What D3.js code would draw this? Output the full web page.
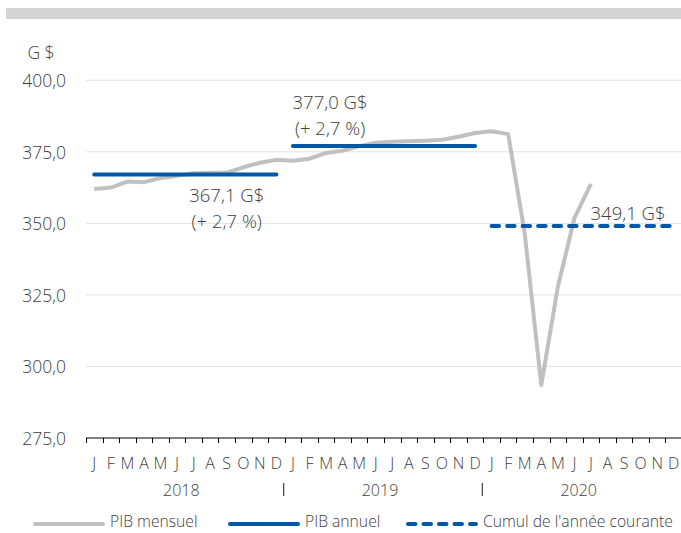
<!DOCTYPE html>
<html>
<head>
<meta charset="utf-8">
<script src="https://cdn.jsdelivr.net/npm/d3@7"></script>
<style>
  body { margin: 0; background: #fff; }
  text { font-family: "Open Sans", sans-serif; font-weight: 300; fill: #404040; }
</style>
</head>
<body>
<svg id="main" width="681" height="533"></svg>
<script>
// data
let monthLabels = ['J','F','M','A','M','J','J','A','S','O','N','D'];
let years = ['2018', '2019', '2020'];
let monthly = [
  362.0, 362.5, 364.6, 364.4, 365.8, 366.6, 367.5, 367.7, 367.7, 369.6, 371.2, 372.2,
  371.9, 372.6, 374.6, 375.4, 377.0, 378.2, 378.5, 378.7, 378.9, 379.2, 380.3, 381.6,
  382.2, 381.2, 346.5, 293.5, 327.8, 351.8, 363.8
];
let annual = [367.1, 377.0];
let annualLabels = [['367,1 G$', '(+ 2,7 %)'], ['377,0 G$', '(+ 2,7 %)']];
let cumul = 349.1;
let cumulLabel = '349,1 G$';
let yTicks = [275, 300, 325, 350, 375, 400];

const blue = '#0058a6', gray = '#c0c0c0';
let svg = d3.select('#main');

// top band
svg.append('rect').attr('x', 6).attr('y', 8).attr('width', 675).attr('height', 11).attr('fill', '#d4d4d4');

let monthIdx = d3.range(years.length * 12);
let x = d3.scaleBand().domain(monthIdx).range([86, 682]).padding(0);
let cx = i => x(i) + x.bandwidth() / 2;
let y = d3.scaleLinear().domain([275, 400]).range([438, 80.3]);

// grid
svg.append('g')
  .selectAll('line')
  .data(yTicks.filter(d => d > 275))
  .join('line')
  .attr('x1', 86).attr('x2', 681)
  .attr('y1', d => y(d)).attr('y2', d => y(d))
  .attr('stroke', '#e2e2e2').attr('stroke-width', 1);

// y labels
svg.append('g')
  .selectAll('text')
  .data(yTicks)
  .join('text')
  .attr('x', 66).attr('y', d => y(d))
  .attr('text-anchor', 'end').attr('dominant-baseline', 'central')
  .style('font-size', '17.5px')
  .text(d => d3.format('.1f')(d).replace('.', ','));
svg.append('text').attr('x', 41).attr('y', 52)
  .attr('text-anchor', 'middle').attr('dominant-baseline', 'central')
  .style('font-size', '17.5px').text('G $');

// x axis
let axis = svg.append('g').attr('transform', `translate(0,${y(275)})`);
axis.append('line').attr('x1', 86).attr('x2', 682).attr('stroke', '#000').attr('stroke-width', 1);
axis.selectAll('.tick')
  .data(d3.range(monthIdx.length + 1))
  .join('line')
  .attr('class', 'tick')
  .attr('x1', i => Math.round(86 + i * x.bandwidth()) + 0.5)
  .attr('x2', i => Math.round(86 + i * x.bandwidth()) + 0.5)
  .attr('y1', 0).attr('y2', 5)
  .attr('stroke', '#000');
axis.selectAll('.mlab')
  .data(monthIdx)
  .join('text')
  .attr('class', 'mlab')
  .attr('x', i => cx(i)).attr('y', 25)
  .attr('text-anchor', 'middle').attr('dominant-baseline', 'central')
  .style('font-size', '16px')
  .text(i => monthLabels[i % 12]);
axis.selectAll('.ylab')
  .data(years)
  .join('text')
  .attr('class', 'ylab')
  .attr('x', (d, i) => x(i * 12 + 6) - 4).attr('y', 52)
  .attr('text-anchor', 'middle').attr('dominant-baseline', 'central')
  .style('font-size', '16px')
  .text(d => d);
axis.selectAll('.sep')
  .data(years.slice(1))
  .join('line')
  .attr('class', 'sep')
  .attr('x1', (d, i) => x((i + 1) * 12) - 1).attr('x2', (d, i) => x((i + 1) * 12) - 1)
  .attr('y1', 45).attr('y2', 58)
  .attr('stroke', '#404040').attr('stroke-width', 1.2);

// monthly line
svg.append('path')
  .datum(monthly)
  .attr('fill', 'none').attr('stroke', gray).attr('stroke-width', 4)
  .attr('stroke-linejoin', 'round')
  .attr('d', d3.line().x((d, i) => cx(i)).y(d => y(d)));

// annual lines
svg.append('g')
  .selectAll('line')
  .data(annual)
  .join('line')
  .attr('x1', (d, i) => cx(i * 12)).attr('x2', (d, i) => cx(i * 12 + 11))
  .attr('y1', d => y(d)).attr('y2', d => y(d))
  .attr('stroke', blue).attr('stroke-width', 4).attr('stroke-linecap', 'round');

// current-year cumulative
svg.append('line')
  .attr('x1', cx(24)).attr('x2', cx(35))
  .attr('y1', y(cumul)).attr('y2', y(cumul))
  .attr('stroke', blue).attr('stroke-width', 4).attr('stroke-linecap', 'round')
  .attr('stroke-dasharray', '7.5,8');

// annotations
let ann = [
  {lines: annualLabels[0], xi: 8, dy: 20},
  {lines: annualLabels[1], xi: 14, dy: -45},
];
ann.forEach((a, k) => {
  a.lines.forEach((t, j) => {
    svg.append('text')
      .attr('x', cx(a.xi) + (k === 0 ? 0 : 4)).attr('y', y(annual[k]) + a.dy + j * 26)
      .attr('text-anchor', 'middle').attr('dominant-baseline', 'central')
      .style('font-size', '18.5px')
      .text(t);
  });
});
svg.append('text')
  .attr('x', cx(32) + 4).attr('y', y(cumul) - 13)
  .attr('text-anchor', 'middle').attr('dominant-baseline', 'central')
  .style('font-size', '18.5px')
  .text(cumulLabel);

// legend
let legend = [
  {label: 'PIB mensuel', color: gray, dash: null, x: 35},
  {label: 'PIB annuel', color: blue, dash: null, x: 230},
  {label: "Cumul de l'année courante", color: blue, dash: '7.5,8', x: 408},
];
let lg = svg.append('g').attr('transform', 'translate(0,521)');
legend.forEach(l => {
  lg.append('line').attr('x1', l.x).attr('x2', l.x + 68)
    .attr('y1', 3).attr('y2', 3)
    .attr('stroke', l.color).attr('stroke-width', 4).attr('stroke-linecap', 'round')
    .attr('stroke-dasharray', l.dash);
  lg.append('text').attr('x', l.x + 75).attr('y', 0)
    .attr('dominant-baseline', 'central').style('font-size', '15.7px')
    .text(l.label);
});
</script>
</body>
</html>
